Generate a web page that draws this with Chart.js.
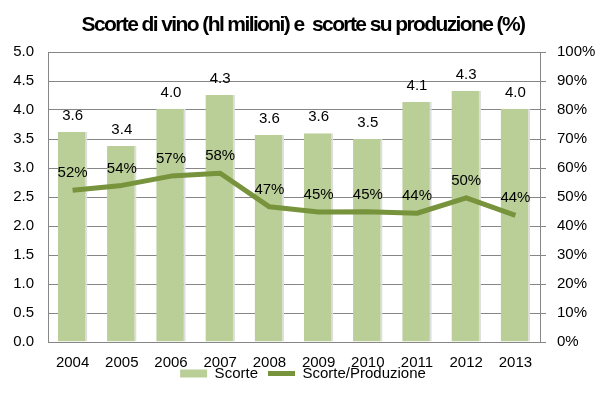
<!DOCTYPE html>
<html>
<head>
<meta charset="utf-8">
<script src="https://cdn.jsdelivr.net/npm/chart.js@4.4.1/dist/chart.umd.min.js"></script>
<style>
  html, body { margin: 0; padding: 0; background: #fff; }
  #wrap { width: 606px; height: 394px; }
</style>
</head>
<body>
<div id="wrap"><canvas id="chart"></canvas></div>
<script>
// data
const years = ["2004", "2005", "2006", "2007", "2008", "2009", "2010", "2011", "2012", "2013"];
const scorte = [3.62, 3.38, 4.02, 4.26, 3.57, 3.60, 3.50, 4.14, 4.33, 4.02];
const scorteSuProduzione = [52.3, 54.0, 57.2, 58.2, 46.6, 44.8, 44.9, 44.4, 49.7, 43.7];
const seriesNames = ["Scorte", "Scorte/Produzione"];
const chartTitle = "Scorte di vino (hl milioni) e  scorte su produzione (%)";

const barColor = "#bacf97";
const lineColor = "#77933c";
const gridColor = "#868686";
const fontFamily = "'Liberation Sans', Arial, sans-serif";

// title drawn by hand: the original is bold and tightly spaced
const titlePlugin = {
  id: "tightTitle",
  afterDraw(chart) {
    const ctx = chart.ctx;
    ctx.save();
    ctx.font = "bold 21px " + fontFamily;
    ctx.letterSpacing = "-1.6px";
    ctx.fillStyle = "#000";
    ctx.textAlign = "center";
    ctx.textBaseline = "alphabetic";
    ctx.fillText(chartTitle, chart.width / 2, 31);
    ctx.restore();
  },
};

// value labels above bars and line points
const valueLabels = {
  id: "valueLabels",
  afterDatasetsDraw(chart) {
    const ctx = chart.ctx;
    ctx.save();
    ctx.font = "15px " + fontFamily;
    ctx.fillStyle = "#000";
    ctx.textAlign = "center";
    ctx.textBaseline = "middle";
    chart.getDatasetMeta(0).data.forEach((bar, i) => {
      ctx.fillText(scorte[i].toFixed(1), bar.x, bar.y - 16);
    });
    chart.getDatasetMeta(1).data.forEach((pt, i) => {
      ctx.fillText(Math.round(scorteSuProduzione[i]) + "%", pt.x, pt.y - 17);
    });
    ctx.restore();
  },
};

// the x axis is kept short so the legend sits close under it, as in the original;
// let its labels draw past the short box instead of being clipped
const xLabelsUnclipped = {
  id: "xLabelsUnclipped",
  afterLayout(chart) {
    chart.scales.x.bottom = chart.height;
  },
};

const tickFont = { family: fontFamily, size: 15 };

new Chart(document.getElementById("chart"), {
  data: {
    labels: years,
    datasets: [
      {
        type: "bar",
        label: seriesNames[0],
        data: scorte,
        yAxisID: "y",
        backgroundColor: barColor,
        borderColor: "#dedede",
        borderWidth: { top: 0, right: 2, bottom: 0, left: 0 },
        borderSkipped: false,
        categoryPercentage: 1,
        barPercentage: 0.6,
        order: 2,
      },
      {
        type: "line",
        label: seriesNames[1],
        data: scorteSuProduzione,
        yAxisID: "y1",
        borderColor: lineColor,
        borderWidth: 5,
        borderJoinStyle: "round",
        pointRadius: 0,
        tension: 0,
        order: 1,
      },
    ],
  },
  options: {
    responsive: true,
    maintainAspectRatio: false,
    animation: false,
    layout: { padding: { top: 52, right: 0, bottom: 3, left: 0 } },
    plugins: {
      tooltip: { enabled: false },
      legend: {
        position: "bottom",
        labels: {
          usePointStyle: true,
          pointStyleWidth: 27,
          boxHeight: 8,
          padding: 10,
          color: "#000",
          font: { family: fontFamily, size: 15 },
          generateLabels() {
            return [
              { text: seriesNames[0], pointStyle: "rect", fillStyle: barColor, strokeStyle: barColor, lineWidth: 0, datasetIndex: 0 },
              { text: seriesNames[1], pointStyle: "line", fillStyle: lineColor, strokeStyle: lineColor, lineWidth: 5, datasetIndex: 1 },
            ];
          },
        },
      },
    },
    scales: {
      x: {
        grid: { display: false, drawTicks: false },
        border: { display: true, color: gridColor },
        ticks: { color: "#000", font: tickFont, padding: 12, maxRotation: 0 },
        afterFit(scale) { scale.height = 14; },
      },
      y: {
        position: "left",
        min: 0,
        max: 5,
        ticks: { stepSize: 0.5, color: "#000", font: tickFont, padding: 14, callback: (v) => v.toFixed(1) },
        grid: { color: gridColor, drawTicks: false },
        border: { color: gridColor },
        afterFit(scale) { scale.width = 48; },
      },
      y1: {
        position: "right",
        min: 0,
        max: 100,
        ticks: { stepSize: 10, color: "#000", font: tickFont, padding: 11, callback: (v) => v + "%" },
        grid: { drawOnChartArea: false, tickLength: 6, color: gridColor },
        border: { color: gridColor },
        afterFit(scale) { scale.width = 66; },
      },
    },
  },
  plugins: [valueLabels, titlePlugin, xLabelsUnclipped],
});
</script>
</body>
</html>
